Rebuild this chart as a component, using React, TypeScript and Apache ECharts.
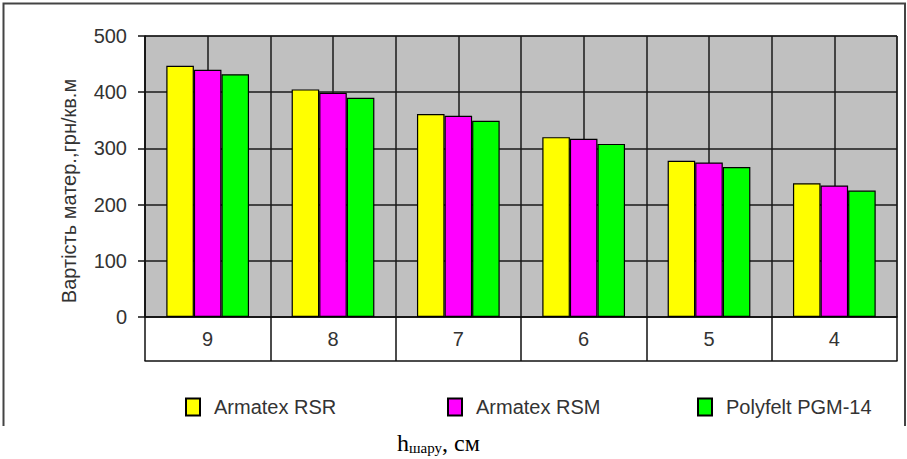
import React, { useEffect, useRef } from "react";
import * as echarts from "echarts";

const categories = ["9", "8", "7", "6", "5", "4"];
const seriesNames = ["Armatex RSR", "Armatex RSM", "Polyfelt PGM-14"];
const rsr = [447, 405, 361, 320, 278, 238];
const rsm = [440, 399, 358, 317, 275, 234];
const pgm = [432, 390, 349, 308, 267, 225];
const colors = ["#ffff00", "#ff00ff", "#00ff00"];
const yTitle = "Вартість матер.,грн/кв.м";

export default function App() {
  const ref = useRef<HTMLDivElement>(null);
  useEffect(() => {
    if (!ref.current) return;
    const chart = echarts.init(ref.current, null, { renderer: "svg" });
    const dataSets = [rsr, rsm, pgm];
    const legendLefts = [185, 447, 697];
    const txt = "#333333";
    chart.setOption({
      animation: false,
      backgroundColor: "#ffffff",
      textStyle: { fontFamily: "Liberation Sans, Arial, sans-serif" },
      grid: {
        left: 145,
        right: 10,
        top: 36,
        bottom: 142,
        show: true,
        backgroundColor: "#c0c0c0",
        borderColor: "#222",
        borderWidth: 1,
      },
      legend: seriesNames.map((n, i) => ({
        data: [n],
        left: legendLefts[i],
        top: 397,
        padding: 0,
        itemWidth: 14,
        itemHeight: 17,
        icon: "rect",
        textStyle: { fontSize: 20, color: txt, padding: [0, 0, 0, 9] },
      })),
      xAxis: [
        {
          type: "category",
          data: categories,
          axisLine: { show: true, lineStyle: { color: "#111", width: 1.5 } },
          axisTick: { show: true, length: 44, lineStyle: { color: "#111", width: 1.5 } },
          axisLabel: { fontSize: 20, color: txt, margin: 12 },
          splitLine: { show: false },
        },
        {
          type: "category",
          data: categories,
          position: "bottom",
          offset: 44,
          axisLine: { show: true, lineStyle: { color: "#111", width: 1.5 } },
          axisTick: { show: false },
          axisLabel: { show: false },
        },
        {
          type: "value",
          min: 0,
          max: categories.length * 2,
          interval: 1,
          position: "top",
          axisLine: { show: false },
          axisTick: { show: false },
          axisLabel: { show: false },
          splitLine: { show: true, lineStyle: { color: "#1a1a1a", width: 1.5 } },
        },
      ],
      yAxis: {
        type: "value",
        min: 0,
        max: 500,
        interval: 100,
        name: yTitle,
        nameLocation: "middle",
        nameRotate: 90,
        nameGap: 66,
        nameTextStyle: { fontSize: 20, color: txt, padding: [0, 29, 0, 0] },
        axisLine: { show: true, lineStyle: { color: "#111", width: 1.5 } },
        axisTick: { show: true, length: 7, lineStyle: { color: "#111", width: 1.5 } },
        axisLabel: { fontSize: 20, color: txt, margin: 18 },
        splitLine: { show: true, lineStyle: { color: "#1a1a1a", width: 1.5 } },
      },
      series: seriesNames.map((n, i) => ({
        name: n,
        type: "bar",
        data: dataSets[i],
        barGap: "0%",
        barCategoryGap: "34%",
        itemStyle: { color: colors[i], borderColor: "#000", borderWidth: 1.2 },
      })),
      graphic: [
        {
          type: "polyline",
          shape: { points: [[3.5, 426], [3.5, 3.5], [905, 3.5], [905, 426]] },
          style: { stroke: "#444", lineWidth: 2, fill: "none" },
          silent: true,
        },
        {
          type: "text",
          left: 397,
          top: 431,
          style: {
            text: "{a|h}{b|шару}{a|, см}",
            rich: {
              a: { fontFamily: "Liberation Serif, Times New Roman, serif", fontSize: 24, lineHeight: 24, color: "#000", verticalAlign: "bottom" },
              b: { fontFamily: "Liberation Serif, Times New Roman, serif", fontSize: 15, lineHeight: 15, color: "#000", verticalAlign: "bottom" },
            },
          },
        },
      ],
    });
    return () => chart.dispose();
  }, []);
  return (
    <div
      ref={ref}
      style={{ position: "fixed", left: 0, top: 0, width: 907, height: 459, background: "#fff" }}
    />
  );
}
